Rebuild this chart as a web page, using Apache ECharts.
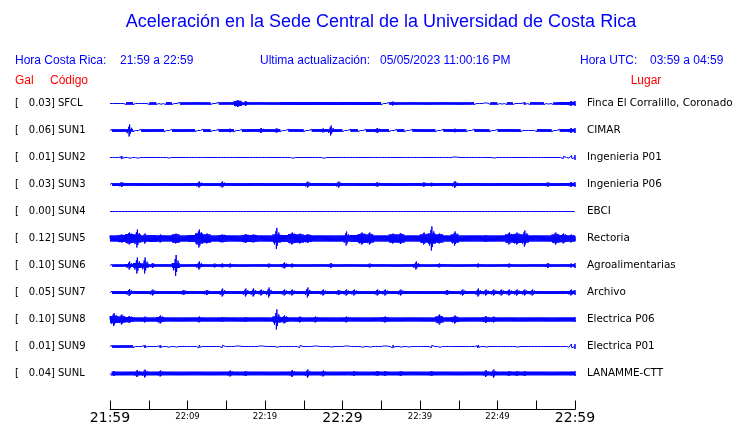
<!DOCTYPE html>
<html><head><meta charset="utf-8">
<script src="https://cdn.jsdelivr.net/npm/echarts@6/dist/echarts.min.js"></script>
<style>html,body{margin:0;padding:0;background:#fff}#c{width:740px;height:423px}</style>
</head><body><div id="c"></div>
<script>
// ---- data ----
const titleText = 'Aceleración en la Sede Central de la Universidad de Costa Rica';
const localRange = '21:59 a 22:59';
const utcRange = '03:59 a 04:59';
const updated = '05/05/2023 11:00:16 PM';
const codes = ['SFCL','SUN1','SUN2','SUN3','SUN4','SUN5','SUN6','SUN7','SUN8','SUN9','SUNL'];
const gals = ['0.03','0.06','0.01','0.03','0.00','0.12','0.10','0.05','0.10','0.01','0.04'];
const places = ['Finca El Corralillo, Coronado','CIMAR','Ingenieria P01','Ingenieria P06','EBCI','Rectoria','Agroalimentarias','Archivo','Electrica P06','Electrica P01','LANAMME-CTT'];
const tickLabels = ['21:59','','22:09','','22:19','','22:29','','22:39','','22:49','','22:59'];
const majorLabels = ['21:59','22:29','22:59'];

// per-minute envelope (core band half-amplitude) and peak half-amplitude, minutes 0..59
const coreSFCL = [0,0,1.2,0,0,1.2,0,1.2,0,1.2, 1.2,1.2,1.2,0,1.2,1.2,2.5,1.2,1.2,1.2, 1.2,1.2,1.5,1.5,1.5,1.5,1.5,1.5,1.5,1.5, 1.5,1.5,1.5,1.5,1.5,0,1.2,1.2,1.2,1.2, 1.2,1.2,1.2,1.2,1.2,1.2,1.2,0,0,1.2, 0,1.2,0,0,1.2,1.2,0,1.2,1.5,1.5];
const peakSFCL = [1.5,0,0,0,0,0,1.5,1.5,0,0, 1,0,0,0,0,0,3.5,2.5,0,0, 0,0,0,0,0,0,0,0,0,0, 0,0,0,0,0,0,2,0,0,0, 0,0,0,0,0,0,0,0,1.2,0, 1.2,0,0,1.5,0,0,1.2,0,0,2.5];
const coreSUN1 = [1.3,1.3,1.3,0,1.3,1.3,1.3,0,1.3,1.3, 1.3,0,1.3,0,1.3,1.3,0,1.3,1.3,1.3, 1.3,1.3,0,1.3,1.3,0,1.3,1.3,1.3,1.3, 0,1.3,0,1.3,1.3,1.3,0,1.3,0,1.3, 1.3,1.3,0,1.3,1.3,1.3,0,1.3,1.3,0, 1.3,1.3,1.3,0,0,1.3,1.3,0,1.3,1.3];
const peakSUN1 = [1.5,0,6,0,0,0,0,0,0,0, 0,0,0,0,0,1.8,0,0,0,2.5, 0,2.2,0,0,0,0,0,2,5,0, 0,0,0,0,2.5,0,0,0,0,0, 0,0,0,0,1.8,0,0,0,0,0, 0,0,0,0,0,0,0,0,0,2.5];
const coreSUN2 = 0;
const peakSUN2 = [0,1.5,1.5,1.5,0,0,0,1.2,0,0, 0,0,0,0,0,0,0,0,0,0, 0,0,0,1.5,0,0,0,1.5,0,0, 0,0,0,0,0,0,0,0,0,0, 0,0,0,0,1.2,0,0,0,0,1.2, 0,0,0,0,0,0,0,0,1.2,2];
const coreSUN3 = 1.4;
const peakSUN3 = [0,2.5,0,0,0,0,0,0,0,0, 0,3,0,0,3,0,0,0,0,0, 0,0,0,0,0,3,0,0,0,3, 0,0,0,0,2.2,0,0,0,0,0, 2.2,1.8,0,0,3.5,0,0,0,0,0, 0,0,0,0,0,0,2.2,0,0,2.5];
const coreSUN4 = 0;
const peakSUN4 = [];
const coreSUN5 = [3,3.5,4.5,4,3,3.5,3,3,4,3, 3.5,5,4,3,3.5,3,3,3.5,3.5,3, 3,4,3.5,4.5,4,3.5,3,3,3,3, 3,3.5,4.5,4,3,3,4,4,3,3, 4,5,4,3,4,3,3,3,3,3, 3,4,4.5,4,3,3,3,4,3.5,3];
const peakSUN5 = [0,4,6,9,5,0,4,0,5,0, 0,9,5,0,4,0,0,4.5,4,0, 0,10.5,0,6,5,4.5,0,0,0,0, 7,0,6,6,0,0,5,5.5,0,0, 6,12,5,0,7,0,0,0,3.5,0, 0,6,6,8,0,0,0,6,5,4];
const coreSUN6 = [1.2,1.2,1.5,2.5,2,1.2,1.2,1.2,2.5,1.2, 1.2,1.5,1.2,1.2,1.2,1.2,1.2,1.2,1.2,1.2, 1.2,1.2,1.5,1.2,1.2,1.2,1.2,1.2,1.2,1.2, 1.2,1.2,1.2,1.2,1.2,1.2,1.2,1.2,1.2,1.5, 1.2,1.2,1.2,1.2,1.2,1.2,1.2,1.2,1.2,1.2, 1.2,1.2,1.2,1.2,1.2,1.2,1.2,1.2,1.2,1.2];
const peakSUN6 = [0,0,4,8,8,2.5,0,0,10.5,0, 0,4,0,2,2,2,0,0,0,0, 2,0,3,2,0,0,0,0,2.5,0, 0,0,0,2,0,0,0,0,0,4, 0,0,2,0,0,0,0,2,0,0, 0,2,0,0,0,0,2.5,0,0,2];
const coreSUN7 = 1.5;
const peakSUN7 = [0,0,3.5,0,0,3,0,0,0,2.5, 0,0,2.5,0,4,0,0,4,4,3, 5,0,3,3,0,5,0,3,0,2.5, 3,3,0,0,3,3,0,3,0,0, 0,0,0,2.5,0,3,0,4,3,3, 3,3,3,3,3,0,0,0,0,3];
const coreSUN8 = [3.5,3,2.5,2,2,2,2.5,2,2,2, 2,2,2,2,2,2,2,2,2,2, 2,3,2.5,2,2,2,2,2,2,2, 2,2,2,2,2,2.2,2,2,2,2, 2,2,3,2,2.5,2,2,2,2.2,2, 2,2,2,2,2,2,2,2,2,2];
const peakSUN8 = [6.5,5,3.5,0,3,0,4,0,0,0, 0,3,0,0,2.5,0,0,2.5,0,0, 0,10,4,0,3,0,3,0,0,0, 3,0,0,0,0,3,0,0,0,0, 0,0,5,0,4,0,0,0,3.5,3, 0,0,0,0,0,0,0,0,0,0];
const coreSUN9 = [1.2,1.2,1.2,0,0,0,0,0,0,0, 0,0,0,0,0,0,0,0,0,0, 0,0,0,0,0,0,0,0,0,0, 0,0,0,0,0,0,0,0,0,0, 0,0,0,0,0,0,0,0,0,0, 0,0,0,0,0,0,0,0,0,0];
const peakSUN9 = [0,0,0,0,1.5,0,1.5,1.5,1.2,0, 0,1.5,0,0,1.2,0,1.2,0,0,1.2, 0,1.5,0,0,1.2,0,1.2,0,1.2,0, 1.2,0,1.5,1.2,0,1.2,1.5,1.2,1.2,0, 0,1.2,1.5,0,0,0,0,1.5,1.2,0, 0,0,1.2,0,0,0,0,0,0,2.5];
const coreSUNL = 1.8;
const peakSUNL = [2.5,0,0,3.5,4,0,3,0,0,0, 0,0,0,0,0,3,0,2.5,0,0, 0,0,0,3.5,0,4,0,3,0,0, 0,2.5,0,0,2.5,2.5,0,2.5,0,0, 0,2.5,0,0,0,0,0,0,3.5,4, 0,2.5,2.5,2.5,0,0,0,0,0,2];

const cores = [coreSFCL,coreSUN1,coreSUN2,coreSUN3,coreSUN4,coreSUN5,coreSUN6,coreSUN7,coreSUN8,coreSUN9,coreSUNL];
const peaks = [peakSFCL,peakSUN1,peakSUN2,peakSUN3,peakSUN4,peakSUN5,peakSUN6,peakSUN7,peakSUN8,peakSUN9,peakSUNL];

// ---- layout ----
const ROW = 27;               // trace offset spacing in amplitude units
const G = {left:110, right:165, top:76.5, bottom:13.5};
const rowY = i => 76 + ROW + ROW*i + 0.3;
const BLUE = '#0000ff', RED = '#ff0000';
const SANS = "'Liberation Sans', Arial, sans-serif";
const DJ = "'DejaVu Sans', sans-serif";

function trace(i){
  const off = i*ROW, c = cores[i], p = peaks[i], K = 16;
  const pts = [[0, off]];
  for (let m=0; m<60; m++){
    const cm = typeof c === 'number' ? c : c[m];
    const pm = Math.max(cm, p[m] || 0);
    for (let k=0; k<K; k++){
      let a = cm;
      if (k===7 || k===8) a = pm;
      else if (k===6 || k===9) a = cm + (pm-cm)*0.5;
      else if (k===3 || k===12) a = cm + (pm-cm)*0.3;
      const s = k%2===0 ? -1 : 1;
      pts.push([m + (k+0.5)/K, off + s*a]);
    }
  }
  if (i !== 4) { pts.push([60, off-2.5], [60, off+2.5], [60, off]); }
  else pts.push([60, off]);
  return pts;
}

const series = codes.map((code,i)=>({
  type:'line', name:code, data:trace(i), showSymbol:false, symbol:'none',
  lineStyle:{width:1,color:BLUE}, silent:true, animation:false, z:2
}));

const graphic = [];
function txt(text,x,y,font,fill,align){
  graphic.push({type:'text', x:x, y:y, silent:true,
    style:{text:text, font:font, fill:fill, textAlign:align||'left', textVerticalAlign:'middle', align:align||'left', verticalAlign:'middle'}});
}
txt(titleText, 381, 22, "18px "+SANS, BLUE, 'center');
txt('Hora Costa Rica:', 15, 61, "12px "+SANS, BLUE);
txt(localRange, 120, 61, "12px "+SANS, BLUE);
txt('Ultima actualización:', 260, 61, "12px "+SANS, BLUE);
txt(updated, 380, 61, "12px "+SANS, BLUE);
txt('Hora UTC:', 580, 61, "12px "+SANS, BLUE);
txt(utcRange, 650, 61, "12px "+SANS, BLUE);
txt('Gal', 15, 81, "12px "+SANS, RED);
txt('Código', 50, 81, "12px "+SANS, RED);
txt('Lugar', 646, 81, "12px "+SANS, RED, 'center');
codes.forEach((code,i)=>{
  const y = rowY(i);
  txt('[', 15, y, "10px "+DJ, '#000');
  txt(gals[i]+']', 55, y, "10px "+DJ, '#000', 'right');
  txt(code, 58, y, "10px "+DJ, '#000');
  txt(places[i], 587, y, "10.4px "+DJ, '#000');
});

const chart = echarts.init(document.getElementById('c'), null, {renderer:'canvas'});
chart.setOption({
  animation:false,
  backgroundColor:'#ffffff',
  grid:{left:G.left, right:G.right, top:G.top, bottom:G.bottom, containLabel:false, outerBoundsMode:'none'},
  xAxis:{type:'value', min:0, max:60, interval:5, position:'bottom',
    axisLine:{show:true, onZero:false, lineStyle:{color:'#000', width:1}},
    axisTick:{show:true, inside:true, length:9, lineStyle:{color:'#000', width:1}},
    splitLine:{show:false},
    axisLabel:{show:true, margin:2, showMinLabel:true, showMaxLabel:true, hideOverlap:false,
      formatter:v=>{ const t = tickLabels[Math.round(v/5)]; if(!t) return ''; return majorLabels.includes(t) ? '{big|'+t+'}' : '{small|'+t+'}'; },
      rich:{ big:{fontSize:14, fontFamily:'DejaVu Sans', color:'#000', lineHeight:14},
             small:{fontSize:8.5, fontFamily:'DejaVu Sans', color:'#000', lineHeight:10} } }
  },
  yAxis:{type:'value', inverse:true, min:-ROW, max:-ROW + 333, show:false, splitLine:{show:false}},
  graphic: graphic,
  series: series
});
</script>
</body></html>
